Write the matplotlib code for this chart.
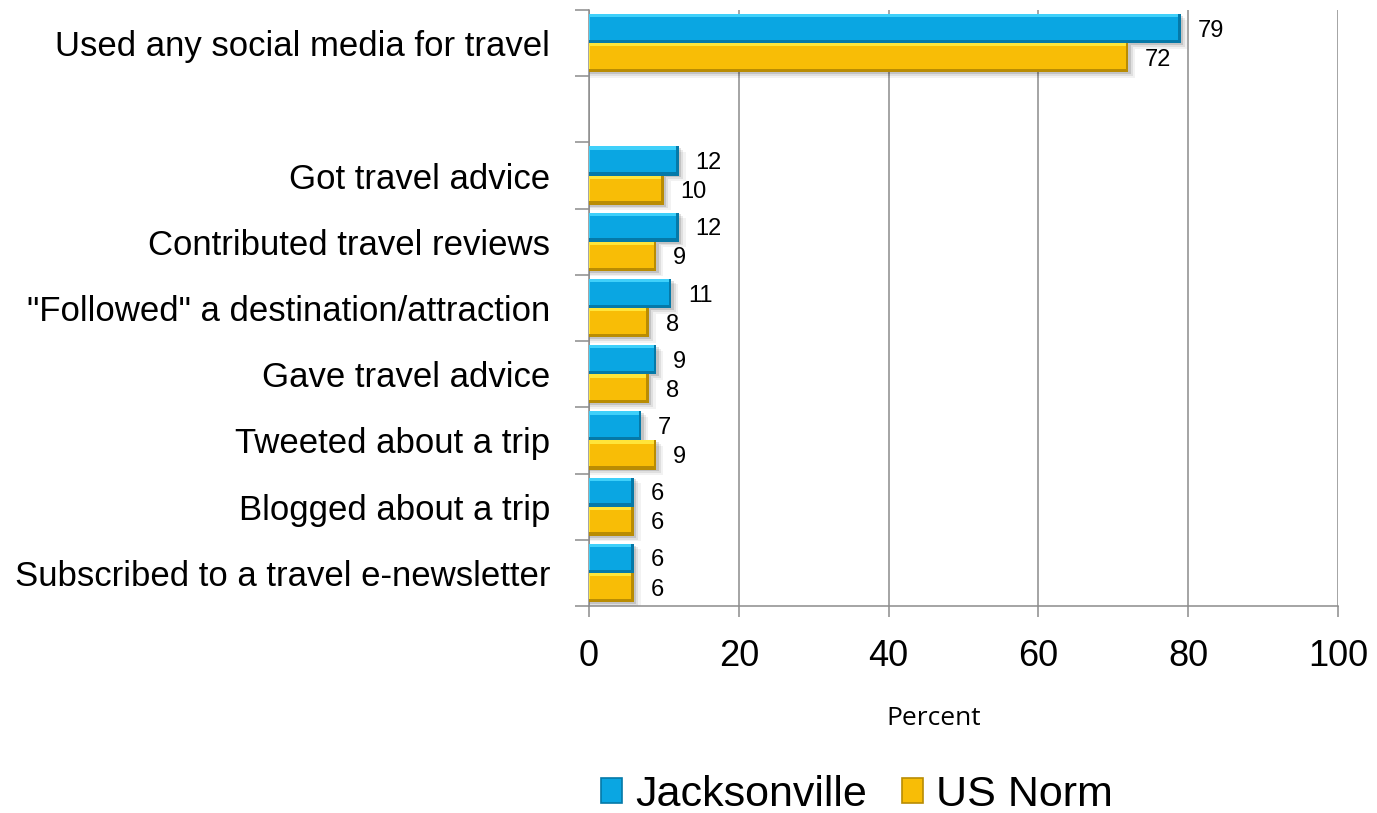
import numpy as np
import matplotlib.pyplot as plt
from matplotlib.patches import Rectangle, Patch

# Survey results, percent of respondents (blank row separates the summary line)
categories = [
    "Used any social media for travel",
    "",
    "Got travel advice",
    "Contributed travel reviews",
    "\"Followed\" a destination/attraction",
    "Gave travel advice",
    "Tweeted about a trip",
    "Blogged about a trip",
    "Subscribed to a travel e-newsletter",
]
jacksonville = [79, np.nan, 12, 12, 11, 9, 7, 6, 6]
us_norm = [72, np.nan, 10, 9, 8, 8, 9, 6, 6]
series_names = ["Jacksonville", "US Norm"]

BLUE = ("#0aa6e2", "#3fd0fa", "#0579a8")     # face, highlight, shade
GOLD = ("#f8bd06", "#ffe53a", "#b98c03")
GRID = "#8c8c8c"

plt.rcParams["font.family"] = ["Liberation Sans", "DejaVu Sans"]

fig = plt.figure(figsize=(13.77, 8.13), dpi=100)
ax = fig.add_axes([589 / 1377, 1 - 606 / 813, (1338 - 589) / 1377, (606 - 10) / 813])

y = np.arange(len(categories))
h = 0.44


def bevel_bar(ax, yc, val, colors):
    face, light, dark = colors
    bx = 0.35   # bevel width in x units
    by = 0.05   # bevel width in y units
    top = yc - h / 2
    # soft drop shadow
    for k, a in enumerate([0.12, 0.08, 0.05]):
        d = 0.014 * (k + 1)
        ax.add_patch(Rectangle((0, top + 2 * d), val + 0.3 * (k + 1), h,
                               facecolor="black", alpha=a, lw=0, zorder=2))
    bars = ax.barh([yc], [val], height=h, color=face, lw=0, zorder=3)
    # highlight on top and left, shading on bottom and right
    ax.add_patch(Rectangle((0, top), val, by, facecolor=light, lw=0, zorder=4))
    ax.add_patch(Rectangle((0, top), bx * 0.5, h, facecolor=light, lw=0, zorder=4))
    ax.add_patch(Rectangle((0, top + h - by), val, by, facecolor=dark, lw=0, zorder=4))
    ax.add_patch(Rectangle((val - bx, top), bx, h, facecolor=dark, lw=0, zorder=4))
    return bars


for yi, v in zip(y, jacksonville):
    if np.isnan(v):
        continue
    bevel_bar(ax, yi - h / 2, v, BLUE)
    ax.annotate(f"{v:g}", (v, yi - h / 2), xytext=(12, -1.5), textcoords="offset points",
                ha="left", va="center", fontsize=17, zorder=6)

for yi, v in zip(y, us_norm):
    if np.isnan(v):
        continue
    bevel_bar(ax, yi + h / 2, v, GOLD)
    ax.annotate(f"{v:g}", (v, yi + h / 2), xytext=(12, -1.5), textcoords="offset points",
                ha="left", va="center", fontsize=17, zorder=6)

ax.set_xlim(0, 100)
ax.set_ylim(len(categories) - 0.5, -0.5)

ax.set_xticks(np.arange(0, 101, 20))
ax.tick_params(axis="x", direction="out", length=8, width=1.1, color=GRID,
               labelsize=26, pad=16)
ax.xaxis.grid(True, color=GRID, lw=1.1, zorder=1)
ax.set_axisbelow(True)

ax.set_yticks(y)
ax.set_yticklabels(categories)
ax.set_yticks(np.arange(-0.5, len(categories)), minor=True)
ax.tick_params(axis="y", which="major", length=0, labelsize=25, pad=28)
ax.tick_params(axis="y", which="minor", direction="out", length=10, width=1.1, color=GRID)

for side in ("top", "right"):
    ax.spines[side].set_visible(False)
for side in ("left", "bottom"):
    ax.spines[side].set_color(GRID)
    ax.spines[side].set_linewidth(1.1)

fig.text(934 / 1377, 1 - 718 / 813, "Percent", ha="center", va="center",
         fontsize=19, family=["Open Sans", "DejaVu Sans"])

handles = [Patch(facecolor=BLUE[0], edgecolor=BLUE[2], lw=1.2),
           Patch(facecolor=GOLD[0], edgecolor=GOLD[2], lw=1.2)]
fig.legend(handles, series_names, loc="center", bbox_to_anchor=(857 / 1377, 1 - 795 / 813),
           ncol=2, frameon=False, fontsize=31, handlelength=0.5, handleheight=0.5,
           handletextpad=0.3, columnspacing=0.8, borderpad=0)

fig.savefig("out.png", dpi=100)
